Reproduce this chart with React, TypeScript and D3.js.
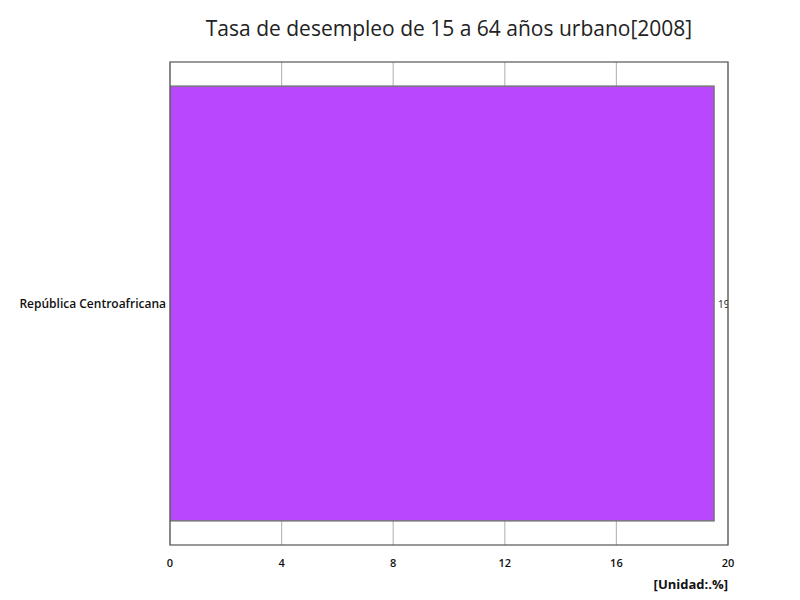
import React from "react";
import * as d3 from "d3";

const categories = ["República Centroafricana"];
const values = [19.5];
const xTicks = [0, 4, 8, 12, 16, 20];
const title = "Tasa de desempleo de 15 a 64 años urbano[2008]";
const unitLabel = "[Unidad:.%]";

export default function App() {
  const W = 800, H = 600;
  const left = 170, right = 728, top = 62, bottom = 545;
  const x = d3.scaleLinear().domain([0, 20]).range([left, right]);
  const y = d3.scaleBand<string>().domain(categories).range([top, bottom]).paddingInner(0.1).paddingOuter(0.05);
  const font = "'Open Sans', 'Noto Sans', sans-serif";
  return (
    <svg width={W} height={H} style={{ position: "absolute", left: 0, top: 0 }} fontFamily={font}>
      <defs>
        <clipPath id="plotclip">
          <rect x={left} y={top} width={right - left} height={bottom - top} />
        </clipPath>
      </defs>
      <rect x={0} y={0} width={W} height={H} fill="#fff" />
      <text x={(left + right) / 2} y={36} textAnchor="middle" fontSize={21} fill="#222">{title}</text>
      {xTicks.map((t) => (
        <line key={t} x1={x(t)} x2={x(t)} y1={top} y2={bottom} stroke="#bbb" strokeWidth={1.2} />
      ))}
      <g clipPath="url(#plotclip)">
        {categories.map((c, i) => (
          <g key={c}>
            <rect x={x(0)} y={y(c)!} width={x(values[i]) - x(0)} height={y.bandwidth()} fill="#b847fe" stroke="#777" strokeWidth={1.5} />
            <text x={x(values[i]) + 4} y={y(c)! + y.bandwidth() / 2} dominantBaseline="central" fontSize={10} fill="#222">{values[i]}</text>
          </g>
        ))}
      </g>
      <rect x={left} y={top} width={right - left} height={bottom - top} fill="none" stroke="#555" strokeWidth={1.2} />
      {categories.map((c) => (
        <text key={c} x={left - 4} y={y(c)! + y.bandwidth() / 2} textAnchor="end" dominantBaseline="central" fontSize={12} fontWeight={600} fill="#111">{c}</text>
      ))}
      {xTicks.map((t) => (
        <text key={t} x={x(t)} y={562} textAnchor="middle" dominantBaseline="central" fontSize={11} fontWeight={600} fill="#111">{t}</text>
      ))}
      <text x={right} y={584} textAnchor="end" dominantBaseline="central" fontSize={13} fontWeight={700} fill="#111">{unitLabel}</text>
    </svg>
  );
}
